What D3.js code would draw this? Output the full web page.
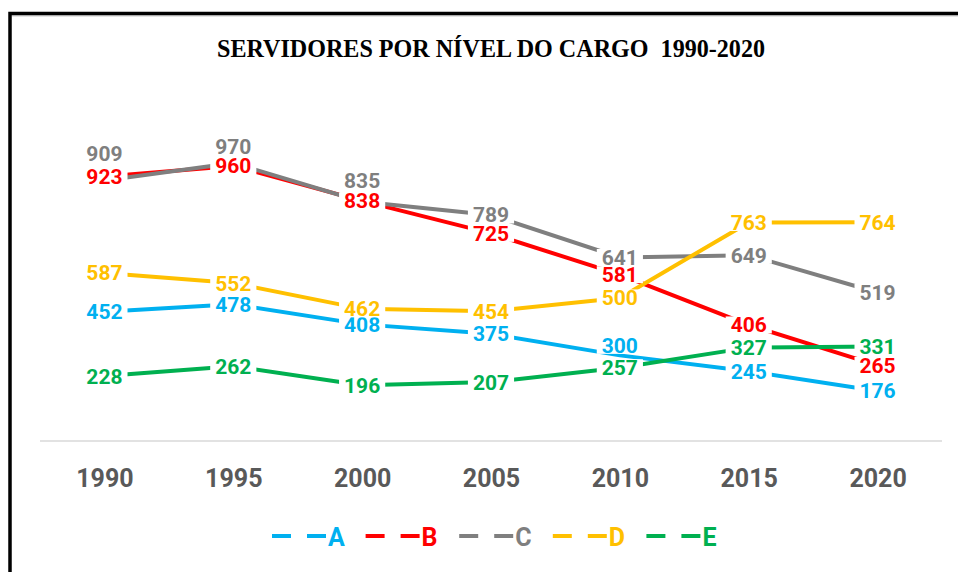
<!DOCTYPE html>
<html>
<head>
<meta charset="utf-8">
<script src="https://cdn.jsdelivr.net/npm/d3@7"></script>
<style>
  html, body { margin: 0; padding: 0; background: #ffffff; }
  svg { display: block; }
</style>
</head>
<body>
<svg id="chart" width="958" height="572"></svg>
<script>
// ---- data ----
const title = "SERVIDORES POR NÍVEL DO CARGO  1990-2020";
const years = ["1990", "1995", "2000", "2005", "2010", "2015", "2020"];
const seriesNames = ["A", "B", "C", "D", "E"];
const valuesA = [452, 478, 408, 375, 300, 245, 176];
const valuesB = [923, 960, 838, 725, 581, 406, 265];
const valuesC = [909, 970, 835, 789, 641, 649, 519];
const valuesD = [587, 552, 462, 454, 500, 763, 764];
const valuesE = [228, 262, 196, 207, 257, 327, 331];

// ---- styles (not data) ----
const colors = ["#00B0F0", "#FF0000", "#7F7F7F", "#FFC000", "#00B050"];
// vertical offsets of some data labels (label placed above the point)
const labelOffsets = {
  "C-1990": -27, "C-1995": -17, "C-2000": -21, "A-2010": -10
};

const seriesValues = [valuesA, valuesB, valuesC, valuesD, valuesE];
const series = seriesNames.map((n, i) => ({
  name: n, color: colors[i],
  points: years.map((y, j) => ({ year: y, value: seriesValues[i][j] }))
}));

const svg = d3.select("#chart");

// frame
svg.append("path")
  .attr("d", "M10,600 L10,13.5 L970,13.5")
  .attr("fill", "none").attr("stroke", "#000").attr("stroke-width", 3.5);
svg.append("line")
  .attr("x1", 12).attr("x2", 958).attr("y1", 15.8).attr("y2", 15.8)
  .attr("stroke", "#a0a0a0").attr("stroke-width", 1);

// title
svg.append("text")
  .attr("x", 217).attr("y", 57)
  .attr("textLength", 548).attr("lengthAdjust", "spacingAndGlyphs")
  .style("white-space", "pre")
  .attr("font-family", "'Liberation Serif', 'Times New Roman', serif")
  .attr("font-weight", "bold").attr("font-size", 25)
  .attr("fill", "#000")
  .text(title);

// scales
const x = d3.scalePoint().domain(years).range([40, 942]).padding(0.5);
const y = d3.scaleLinear().domain([0, 1200]).range([441.5, 97]);

// x axis
const xAxis = d3.axisBottom(x).tickSize(0).tickPadding(0);
const gx = svg.append("g").attr("transform", "translate(0,441)").call(xAxis);
gx.select(".domain").attr("stroke", "#D9D9D9").attr("stroke-width", 1.5)
  .attr("d", "M40,0H942");
gx.selectAll("text")
  .attr("y", 46).attr("dy", null)
  .attr("font-family", "Roboto, 'Open Sans', sans-serif")
  .attr("font-weight", "bold").attr("font-size", 25)
  .attr("fill", "#595959");

// lines
const line = d3.line().x(d => x(d.year)).y(d => y(d.value));
svg.append("g").selectAll("path").data(series).join("path")
  .attr("d", d => line(d.points))
  .attr("fill", "none")
  .attr("stroke", d => d.color)
  .attr("stroke-width", 4)
  .attr("stroke-linejoin", "round");

// data labels with white background
const labelFont = "Roboto, 'Open Sans', sans-serif";
const lg = svg.append("g");
series.forEach(s => {
  s.points.forEach(p => {
    const off = labelOffsets[s.name + "-" + p.year] || 0;
    const cx = x(p.year), cy = y(p.value) + off;
    const g = lg.append("g");
    const rect = g.append("rect").attr("fill", "#fff");
    const t = g.append("text")
      .attr("x", cx).attr("y", cy + 7.5)
      .attr("text-anchor", "middle")
      .attr("font-family", labelFont)
      .attr("font-weight", "bold").attr("font-size", 21)
      .attr("fill", s.color)
      .text(p.value);
    const w = t.node().getComputedTextLength();
    rect.attr("x", cx - w / 2 - 5).attr("y", cy - 8.5)
      .attr("width", w + 10).attr("height", 17);
  });
});

// legend
const legend = svg.append("g");
series.forEach((s, i) => {
  const x0 = 272 + i * 93.6;
  const ly = 536;
  legend.append("line").attr("x1", x0).attr("x2", x0 + 19)
    .attr("y1", ly).attr("y2", ly).attr("stroke", s.color).attr("stroke-width", 4);
  legend.append("line").attr("x1", x0 + 35).attr("x2", x0 + 54)
    .attr("y1", ly).attr("y2", ly).attr("stroke", s.color).attr("stroke-width", 4);
  legend.append("text").attr("x", x0 + 56).attr("y", ly + 9.5)
    .attr("font-family", labelFont).attr("font-weight", "bold").attr("font-size", 25)
    .attr("fill", s.color).text(s.name);
});
</script>
</body>
</html>
